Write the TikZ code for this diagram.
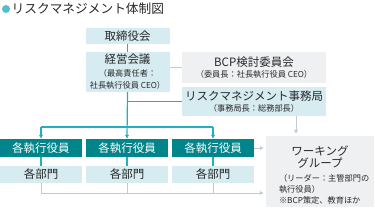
\documentclass[tikz,border=0pt]{standalone}
\usepackage{fontspec}
\setmainfont{Noto Sans CJK JP}
\usetikzlibrary{arrows.meta, positioning, calc}
\definecolor{lineteal}{RGB}{32,176,192}
\definecolor{dotteal}{RGB}{84,190,202}
\definecolor{boxteal}{RGB}{0,133,138}
\definecolor{boxblue}{RGB}{214,236,240}
\definecolor{boxgray}{RGB}{238,240,242}
\definecolor{linegray}{RGB}{192,204,212}
\definecolor{textdark}{RGB}{40,40,40}
\newcommand{\sm}{\fontsize{8.2}{10}\selectfont}

\begin{document}
\begin{tikzpicture}[x=1pt, y=-1pt, font=\fontsize{11.5}{13.5}\selectfont, align=center, text=textdark,
    lbox/.style={fill=boxblue, minimum width=84pt, minimum height=16pt, inner sep=0pt},
    gbox/.style={fill=boxgray, minimum width=144pt, minimum height=31pt, inner sep=0pt},
    exec/.style={fill=boxteal, text=white, minimum width=82pt, minimum height=18pt, inner sep=0pt},
    dept/.style={fill=boxblue, minimum width=82pt, minimum height=17pt, inner sep=0pt},
    tline/.style={draw=lineteal, line width=1.2pt},
    tarrow/.style={tline, -{Latex[length=4pt,width=4.5pt]}},
    gline/.style={draw=linegray, line width=1pt},
    garrow/.style={gline, -{Latex[length=4pt,width=4.5pt]}, shorten >=2pt}
]
    \useasboundingbox (0,0) rectangle (375,209);

    % title
    \node[circle, fill=dotteal, minimum size=8pt, inner sep=0pt] (dot) at (6,9) {};
    \node[anchor=west, inner sep=0pt, font=\fontsize{12.7}{14}\selectfont] (title) at (11.5,9) {リスクマネジメント体制図};

    % top of the chart
    \node[lbox] (board) at (127.5,36) {取締役会};
    \node[lbox, minimum height=40pt] (mgmt) at (127.5,72) {経営会議\\[-1pt]{\sm（最高責任者：}\\[-1pt]{\sm 社長執行役員 CEO）}};
    \node[gbox] (bcp) at (254,67.5) {BCP検討委員会\\[-2pt]{\sm（委員長：社長執行役員 CEO）}};
    \node[gbox, fill=boxblue, minimum height=29pt] (office) at (254,101.5) {リスクマネジメント事務局\\[-3pt]{\sm（事務局長：総務部長）}};

    % executives and departments
    \node[exec] (exec1) at (41,148) {各執行役員};
    \node[exec] (exec2) at (127,148) {各執行役員};
    \node[exec] (exec3) at (213,148) {各執行役員};
    \node[dept] (dept1) at (41,174.5) {各部門};
    \node[dept] (dept2) at (127,174.5) {各部門};
    \node[dept] (dept3) at (213,174.5) {各部門};

    \node[fill=boxgray, minimum width=108pt, minimum height=71pt, inner sep=0pt] (wg) at (320,171.5)
        {\rule{0pt}{17pt}ワーキング\\[-1.5pt]グループ\\[1pt]\parbox[t]{82pt}{\raggedright\sm\baselineskip=11pt（リーダー：主管部門の\\執行役員）\\※BCP策定、教育ほか}};

    \coordinate (bus) at (127,127);
    \coordinate (gbus) at (127,193);
    \coordinate (drop) at ($(office.south)+(42,0)$);

    % teal lines
    \draw[tline] (board) -- (mgmt);
    \draw[tline] (mgmt.south |- office.west) -- (office.west);
    \draw[tarrow] (mgmt.south) -- (exec2.north);
    \draw[tline] (bus -| exec1.north) -- (bus -| exec3.north);
    \draw[tarrow] (bus -| exec1.north) -- (exec1.north);
    \draw[tarrow] (bus -| exec3.north) -- (exec3.north);
    \draw[tline] (exec1) -- (dept1);
    \draw[tline] (exec2) -- (dept2);
    \draw[tline] (exec3) -- (dept3);

    % gray lines
    \draw[gline] (mgmt.east |- bcp.west) -- (bcp.west);
    \draw[garrow] (drop) -- (drop |- wg.north);
    \draw[garrow] (exec3.east) -- (exec3.east -| wg.west);
    \draw[gline] (dept1.south) -- (gbus -| dept1.south);
    \draw[gline] (dept2.south) -- (gbus -| dept2.south);
    \draw[gline] (dept3.south) -- (gbus -| dept3.south);
    \draw[garrow] (gbus -| dept1.south) -- (gbus -| wg.west);
\end{tikzpicture}
\end{document}
